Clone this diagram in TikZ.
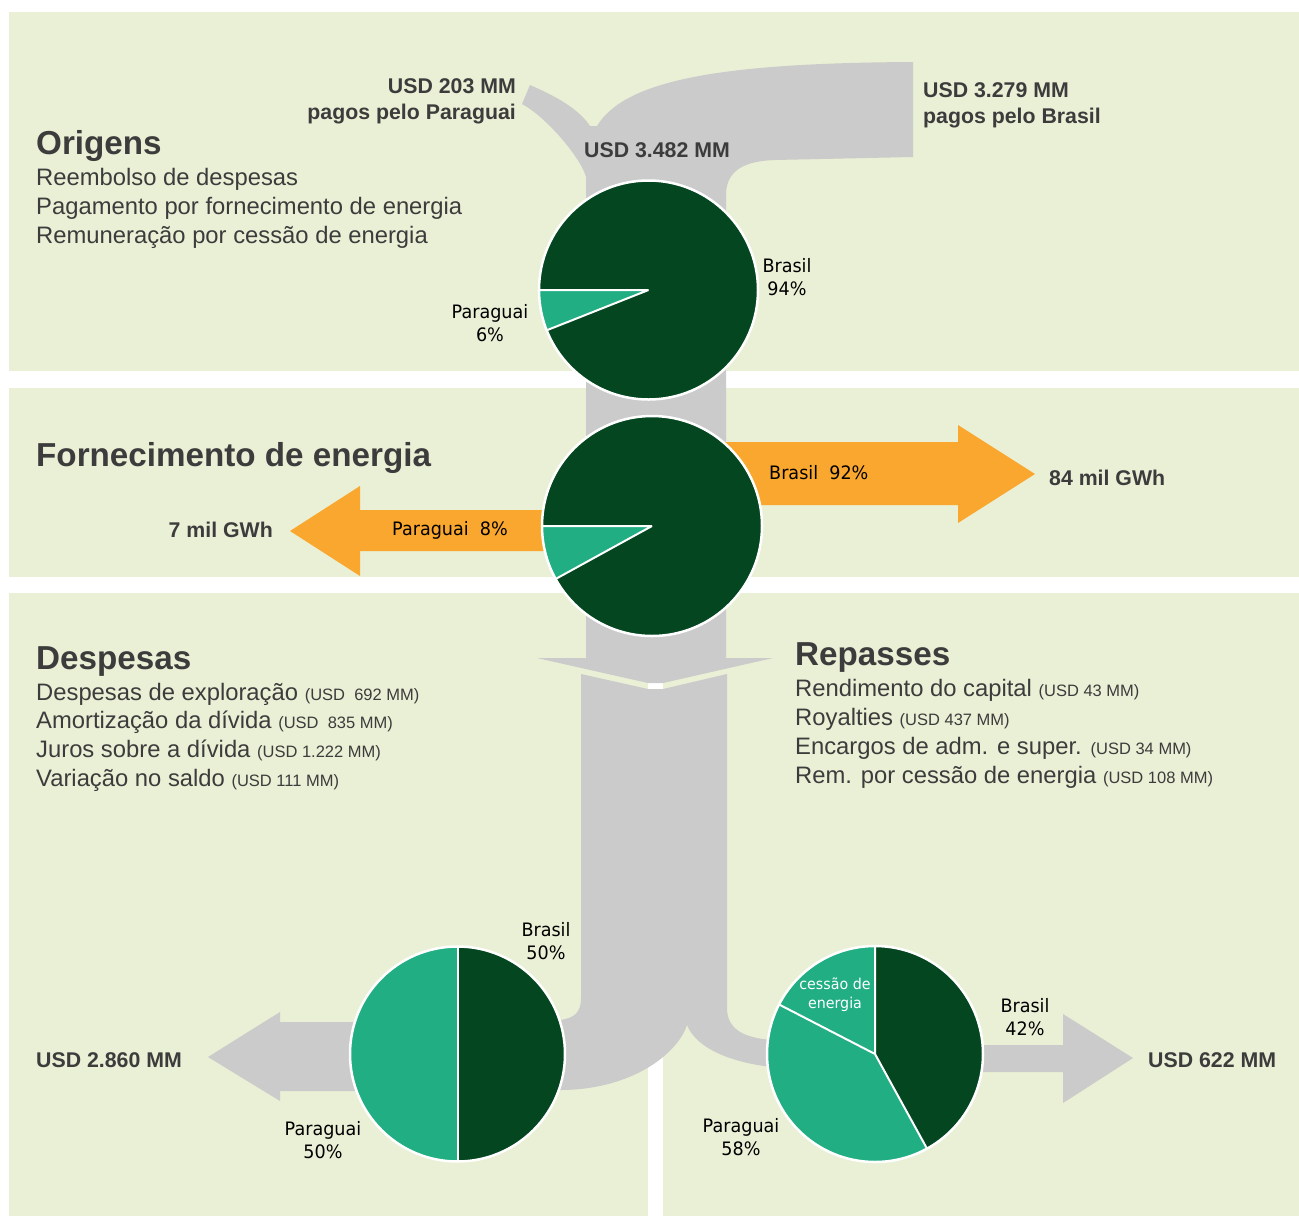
\documentclass[tikz,border=0pt]{standalone}
\usepackage{fontspec}
\setmainfont{Liberation Sans}
\newfontfamily\pief[FakeStretch=0.95]{DejaVu Sans}
\definecolor{bgc}{HTML}{EAF0D5}
\definecolor{flow}{HTML}{CACBCA}
\definecolor{dkg}{HTML}{03461F}
\definecolor{ltg}{HTML}{20AE82}
\definecolor{org}{HTML}{F9A72E}
\definecolor{txt}{HTML}{3C3C3C}
\newcommand\smallpar[1]{{\fontsize{16.5}{20}\selectfont #1}}
\begin{document}
\begin{tikzpicture}[x=1pt,y=-1pt,
  hd/.style={anchor=base west,inner sep=0,text=txt,font=\fontsize{33.2}{36}\selectfont\bfseries},
  bd/.style={anchor=base west,inner sep=0,text=txt,font=\fontsize{23.8}{28}\selectfont},
  lb/.style={inner sep=0,text=txt,font=\fontsize{21.3}{25}\selectfont\bfseries},
  pl/.style={inner sep=0,text=black,align=center,font=\pief\fontsize{18.5}{23.5}\selectfont},
  pan/.style={fill=bgc},
  flw/.style={fill=flow},
  pw/.style={draw=white,line width=2.5pt},
  pline/.style={draw=white,line width=2pt}]
\useasboundingbox (0,0) rectangle (1299,1216);
\fill[white] (0,0) rectangle (1299,1216);
% panels
\fill[pan] (9,12) rectangle (1299,371);
\fill[pan] (9,388) rectangle (1299,577);
\fill[pan] (9,593) rectangle (648,1216);
\fill[pan] (663,593) rectangle (1299,1216);
% top flow band
\fill[flw] (530,85) .. controls (555,96) and (578,108) .. (590,126) -- (597,126)
  .. controls (625,80) and (720,63) .. (913,62) -- (913,157) -- (775,160)
  .. controls (745,161) and (726,170) .. (726,195) -- (726,660) -- (586,660)
  -- (586,177) .. controls (582,160) and (548,118) .. (522,104) -- cycle;
% chevron
\fill[flw] (537,658) -- (773,658) -- (663,683) -- (648,683) -- cycle;
% lower band
\fill[flw] (581,674) -- (648,689) -- (663,689) -- (727,674) -- (727,1008)
  .. controls (727,1030) and (745,1038) .. (772,1040) -- (772,1067)
  .. controls (735,1063) and (697,1050) .. (687,1025)
  .. controls (677,1055) and (630,1090) .. (560,1090) -- (560,1020)
  .. controls (575,1018) and (581,1012) .. (581,998) -- cycle;
% orange arrows
\fill[org] (700,442) -- (958,442) -- (958,425) -- (1035,474) -- (958,523) -- (958,505) -- (700,505) -- cycle;
\fill[org] (600,510) -- (360,510) -- (360,486) -- (290,531) -- (360,576) -- (360,551) -- (600,551) -- cycle;
% grey bottom arrows
\fill[flw] (460,1022) -- (280,1022) -- (280,1012) -- (208,1057) -- (280,1101) -- (280,1091) -- (460,1091) -- cycle;
\fill[flw] (880,1045) -- (1063,1045) -- (1063,1014) -- (1133,1058) -- (1063,1103) -- (1063,1072) -- (880,1072) -- cycle;
% pies
\coordinate (c1) at (648.5,290);
\coordinate (c2) at (652,526);
\coordinate (c3) at (457.5,1054);
\coordinate (c4) at (875,1054);
% pie 1
\fill[dkg] (c1) circle[radius=109.5];
\fill[ltg] (c1) -- ++(180:109.5) arc[start angle=180,end angle=158.4,radius=109.5] -- cycle;
\draw[pline] (c1) -- ++(180:109.5) (c1) -- ++(158.4:109.5);
\draw[pw] (c1) circle[radius=109.5];
% pie 2
\fill[dkg] (c2) circle[radius=110];
\fill[ltg] (c2) -- ++(180:110) arc[start angle=180,end angle=151.2,radius=110] -- cycle;
\draw[pline] (c2) -- ++(180:110) (c2) -- ++(151.2:110);
\draw[pw] (c2) circle[radius=110];
% pie 3
\fill[ltg] (c3) circle[radius=107.5];
\fill[dkg] (c3) -- ++(-90:107.5) arc[start angle=-90,end angle=90,radius=107.5] -- cycle;
\draw[pline] (c3) -- ++(-90:107.5) (c3) -- ++(90:107.5);
\draw[pw] (c3) circle[radius=107.5];
% pie 4
\fill[ltg] (c4) circle[radius=108];
\fill[dkg] (c4) -- ++(-90:108) arc[start angle=-90,end angle=61.2,radius=108] -- cycle;
\draw[pline] (c4) -- ++(-90:108) (c4) -- ++(61.2:108) (c4) -- ++(-152.7:108);
\draw[pw] (c4) circle[radius=108];
% texts panel 1
\node[hd] (orig) at (36,154) {Origens};
\node[bd] (o1) at (36,185) {Reembolso de despesas};
\node[bd] (o2) at (36,214) {Pagamento por fornecimento de energia};
\node[bd] (o3) at (36,243) {Remuneração por cessão de energia};
\node[lb,anchor=base east] (t203) at (516,93) {USD 203 MM};
\node[lb,anchor=base east] (t203b) at (516,119) {pagos pelo Paraguai};
\node[lb,anchor=base west] (t3279) at (923,97) {USD 3.279 MM};
\node[lb,anchor=base west] (t3279b) at (923,123) {pagos pelo Brasil};
\node[lb,anchor=base west] (t3482) at (584,157) {USD 3.482 MM};
\node[pl] (l1b) at (787,277) {Brasil\\94\%};
\node[pl] (l1p) at (490,323) {Paraguai\\6\%};
% panel 2
\node[hd] (forn) at (36,466) {Fornecimento de energia};
\node[lb,anchor=base east] (t7) at (273,537) {7 mil GWh};
\node[lb,anchor=base west] (t84) at (1049,485) {84 mil GWh};
\node[pl] (l2p) at (450,530) {Paraguai\ \ 8\%};
\node[pl,anchor=west] (l2b) at (769,473) {Brasil\ \ 92\%};
% panel 3 left
\node[hd] (desp) at (36,669) {Despesas};
\node[bd] (d1) at (36,700) {Despesas de exploração \smallpar{(USD\ \ 692 MM)}};
\node[bd] (d2) at (36,728) {Amortização da dívida \smallpar{(USD\ \ 835 MM)}};
\node[bd] (d3) at (36,757) {Juros sobre a dívida \smallpar{(USD 1.222 MM)}};
\node[bd] (d4) at (36,786) {Variação no saldo \smallpar{(USD 111 MM)}};
\node[lb,anchor=base west] (t2860) at (36,1067) {USD 2.860 MM};
\node[pl] (l3b) at (546,941) {Brasil\\50\%};
\node[pl] (l3p) at (323,1140) {Paraguai\\50\%};
% panel 3 right
\node[hd] (rep) at (795,665) {Repasses};
\node[bd] (r1) at (795,696) {Rendimento do capital \smallpar{(USD 43 MM)}};
\node[bd] (r2) at (795,725) {Royalties \smallpar{(USD 437 MM)}};
\node[bd] (r3) at (795,754) {Encargos de adm. e super. \smallpar{(USD 34 MM)}};
\node[bd] (r4) at (795,783) {Rem. por cessão de energia \smallpar{(USD 108 MM)}};
\node[lb,anchor=base west] (t622) at (1148,1067) {USD 622 MM};
\node[pl] (l4b) at (1025,1017) {Brasil\\42\%};
\node[pl] (l4p) at (741,1137) {Paraguai\\58\%};
\node[pl,text=white,font=\pief\fontsize{15}{19}\selectfont] (l4c) at (835,995) {cessão de\\energia};
\end{tikzpicture}
\end{document}
